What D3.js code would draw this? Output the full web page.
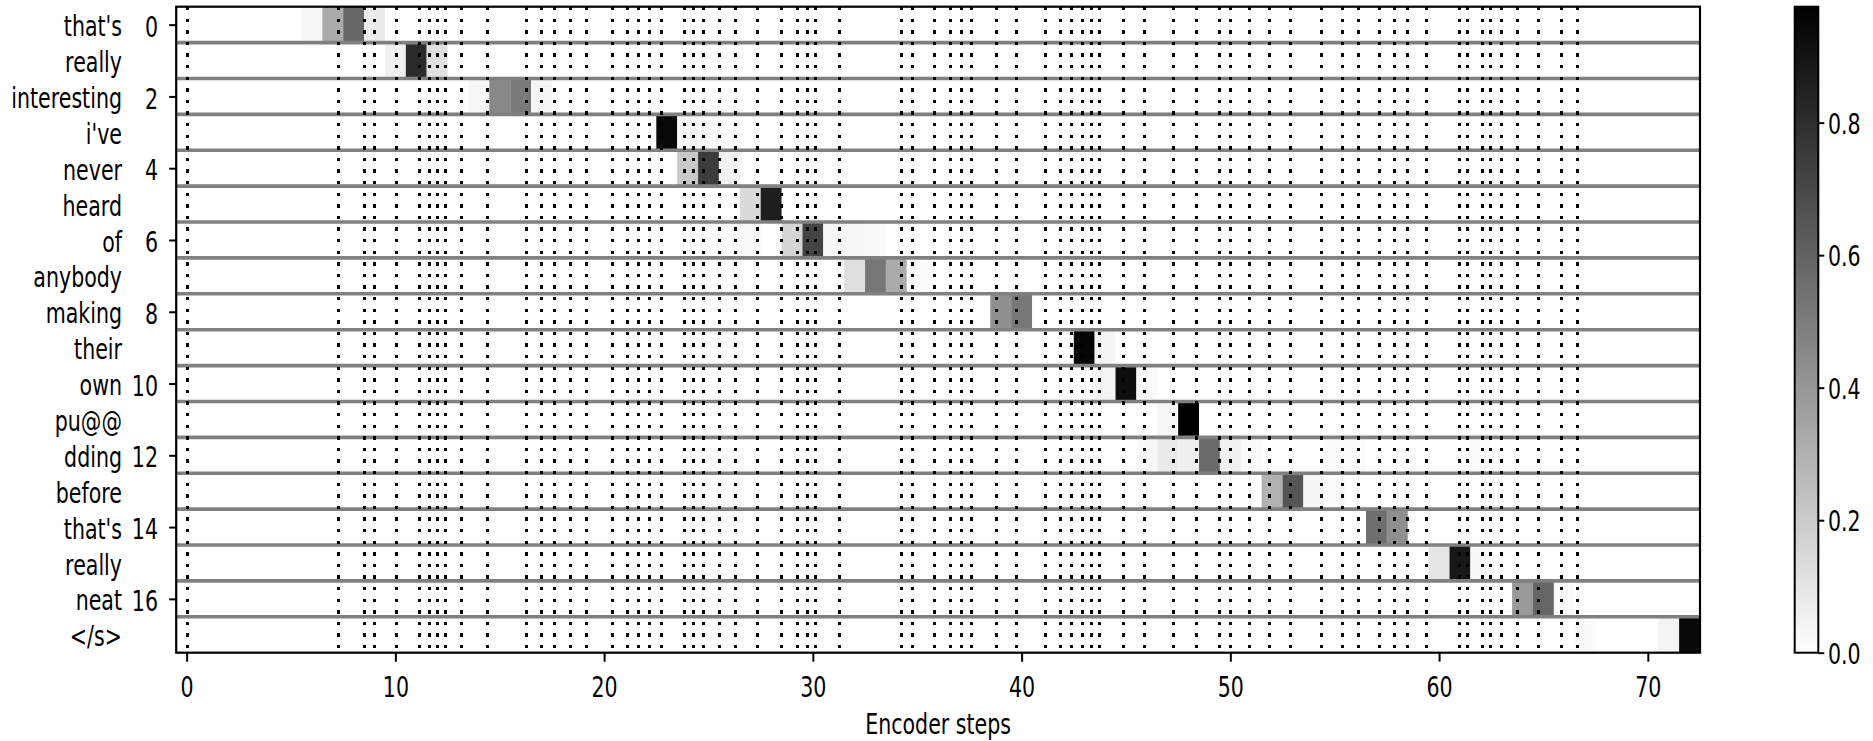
<!DOCTYPE html>
<html>
<head>
<meta charset="utf-8">
<script src="https://cdn.jsdelivr.net/npm/d3@7"></script>
<style>
  body { margin: 0; background: #fff; }
  text { font-family: "DejaVu Sans", sans-serif; fill: #000; }
</style>
</head>
<body>
<svg id="chart" width="1873" height="741"></svg>
<script>
// decoder tokens, one per row
const words = ["that's", "really", "interesting", "i've", "never", "heard", "of",
  "anybody", "making", "their", "own", "pu@@", "dding", "before", "that's",
  "really", "neat", "</s>"];
const rowTicks = [0, 2, 4, 6, 8, 10, 12, 14, 16];
const xTicks = [0, 10, 20, 30, 40, 50, 60, 70];
const cbTicks = [0, 0.2, 0.4, 0.6, 0.8];
const nSteps = 73;

// encoder word boundaries (dotted lines)
const boundaries = [0, 7.23, 8.48, 8.99, 10.01, 11.11, 11.61, 11.98, 12.36, 13.13,
  14.37, 16.26, 16.99, 17.6, 18.37, 19.12, 20.38, 21.11, 21.62, 22.14, 22.74,
  23.84, 24.24, 24.74, 25.49, 26.26, 27.34, 28.49, 29.23, 29.72, 30.12, 31.24,
  34.23, 34.75, 35.81, 36.57, 37.09, 37.58, 38.75, 39.74, 41.11, 41.84, 42.37,
  42.87, 43.33, 43.73, 44.88, 45.85, 47.24, 48.36, 49.48, 49.97, 50.88, 51.87,
  52.87, 54.35, 55.36, 56.11, 57.11, 57.86, 58.47, 59.37, 60.96, 61.35, 62.08,
  62.46, 62.98, 63.72, 64.73, 65.86, 66.62];

// attention weights per decoder row: [encoder step, weight]
const attnRows = [
  [[6, 0.03], [7, 0.325], [8, 0.58], [9, 0.075]],
  [[10, 0.057], [11, 0.81], [12, 0.12]],
  [[14, 0.03], [15, 0.455], [16, 0.51], [17, 0.04]],
  [[23, 0.945], [24, 0.04], [25, 0.02]],
  [[24, 0.21], [25, 0.745], [26, 0.046]],
  [[27, 0.14], [28, 0.86]],
  [[27, 0.02], [29, 0.16], [30, 0.715], [31, 0.025], [32, 0.025], [33, 0.02]],
  [[32, 0.126], [33, 0.52], [34, 0.325], [35, 0.015]],
  [[39, 0.43], [40, 0.52]],
  [[43, 0.955], [44, 0.04]],
  [[44, 0.045], [45, 0.92], [46, 0.02]],
  [[47, 0.03], [48, 0.975]],
  [[46, 0.03], [47, 0.08], [48, 0.06], [49, 0.57], [50, 0.057], [51, 0.02],
   [55, 0.015], [56, 0.015], [62, 0.015]],
  [[52, 0.30], [53, 0.65], [54, 0.04], [55, 0.015]],
  [[57, 0.555], [58, 0.43]],
  [[60, 0.10], [61, 0.885], [62, 0.025]],
  [[64, 0.39], [65, 0.585], [66, 0.02]],
  [[67, 0.02], [71, 0.045], [72, 0.94]]
];

// the picture is squeezed sideways, so text gets the same squeeze
const SX = 0.71;
const FONT = "29px";

const svg = d3.select("#chart");
const plotL = 176.2, plotR = 1700, plotT = 6.7, plotB = 652.7;

const x = d3.scaleLinear().domain([-0.5, nSteps - 0.5]).range([plotL, plotR]);
const y = d3.scaleLinear().domain([-0.5, words.length - 0.5]).range([plotT, plotB]);

const cells = attnRows.flatMap((r, i) => r.map(([c, v]) => ({ row: i, col: c, v })));
const vmax = d3.max(cells, (d) => d.v);
const color = d3.scaleLinear().domain([0, vmax]).range(["#ffffff", "#000000"]);

// heatmap
svg.append("rect")
  .attr("x", plotL).attr("y", plotT)
  .attr("width", plotR - plotL).attr("height", plotB - plotT)
  .attr("fill", "#fff");

svg.append("g")
  .selectAll("rect")
  .data(cells)
  .enter()
  .append("rect")
  .attr("x", (d) => x(d.col - 0.5))
  .attr("y", (d) => y(d.row - 0.5))
  .attr("width", x(0.5) - x(-0.5))
  .attr("height", y(0.5) - y(-0.5))
  .attr("fill", (d) => color(d.v));

// row separators
svg.append("g")
  .selectAll("line")
  .data(d3.range(words.length - 1))
  .enter()
  .append("line")
  .attr("x1", plotL).attr("x2", plotR)
  .attr("y1", (d) => y(d + 0.5)).attr("y2", (d) => y(d + 0.5))
  .attr("stroke", "#808080")
  .attr("stroke-width", 3.6);

// word boundaries, snapped to whole pixels so the dots stay crisp
svg.append("g")
  .attr("shape-rendering", "crispEdges")
  .selectAll("line")
  .data(boundaries)
  .enter()
  .append("line")
  .attr("x1", (d) => Math.round(x(d)) + 0.5).attr("x2", (d) => Math.round(x(d)) + 0.5)
  .attr("y1", Math.round(plotT)).attr("y2", plotB)
  .attr("stroke", "#000")
  .attr("stroke-width", 3)
  .attr("stroke-dasharray", "3.4,8.2");

// frame
svg.append("rect")
  .attr("x", plotL).attr("y", plotT)
  .attr("width", plotR - plotL).attr("height", plotB - plotT)
  .attr("fill", "none")
  .attr("stroke", "#000")
  .attr("stroke-width", 2.2);

// x axis
const xAxis = svg.append("g")
  .attr("transform", `translate(0,${plotB})`)
  .call(d3.axisBottom(x).tickValues(xTicks).tickSize(9).tickSizeOuter(0));
xAxis.select(".domain").remove();
xAxis.selectAll("line").attr("stroke-width", 2);
xAxis.selectAll("text")
  .attr("y", 44.3).attr("dy", 0)
  .attr("transform", `scale(${SX},1)`)
  .style("font-size", FONT);
xAxis.attr("font-family", null).attr("font-size", null);

svg.append("text")
  .attr("transform", `translate(${(plotL + plotR) / 2},734) scale(${SX},1)`)
  .attr("text-anchor", "middle")
  .style("font-size", FONT)
  .text("Encoder steps");

// y axis (row numbers)
const yAxis = svg.append("g")
  .attr("transform", `translate(${plotL},0)`)
  .call(d3.axisLeft(y).tickValues(rowTicks).tickSize(7).tickSizeOuter(0));
yAxis.select(".domain").remove();
yAxis.selectAll("line").attr("stroke-width", 2);
yAxis.selectAll("text")
  .attr("x", -18.2 / SX).attr("y", 11.6).attr("dy", 0)
  .attr("transform", `scale(${SX},1)`)
  .style("font-size", FONT);
yAxis.attr("font-family", null).attr("font-size", null);

// token labels
svg.append("g")
  .selectAll("text")
  .data(words)
  .enter()
  .append("text")
  .attr("transform", (d, i) => `translate(122,${y(i) + 11.6}) scale(${SX},1)`)
  .attr("text-anchor", "end")
  .style("font-size", FONT)
  .text((d) => d);

// colorbar
const cbX = 1794.7, cbW = 23.6;
const cbY = d3.scaleLinear().domain([0, vmax]).range([plotB, plotT]);
const grad = svg.append("defs").append("linearGradient")
  .attr("id", "cbgrad")
  .attr("x1", 0).attr("y1", 1).attr("x2", 0).attr("y2", 0);
grad.append("stop").attr("offset", 0).attr("stop-color", color(0));
grad.append("stop").attr("offset", 1).attr("stop-color", color(vmax));

svg.append("rect")
  .attr("x", cbX).attr("y", plotT)
  .attr("width", cbW).attr("height", plotB - plotT)
  .attr("fill", "url(#cbgrad)")
  .attr("stroke", "#000")
  .attr("stroke-width", 2);

const cbAxis = svg.append("g")
  .attr("transform", `translate(${cbX + cbW},0)`)
  .call(d3.axisRight(cbY).tickValues(cbTicks).tickFormat(d3.format(".1f"))
    .tickSize(6).tickSizeOuter(0));
cbAxis.select(".domain").remove();
cbAxis.selectAll("line").attr("stroke-width", 2);
cbAxis.selectAll("text")
  .attr("x", 9.7 / SX).attr("y", 10.5).attr("dy", 0)
  .attr("transform", `scale(${SX},1)`)
  .style("font-size", FONT);
cbAxis.attr("font-family", null).attr("font-size", null);
</script>
</body>
</html>
